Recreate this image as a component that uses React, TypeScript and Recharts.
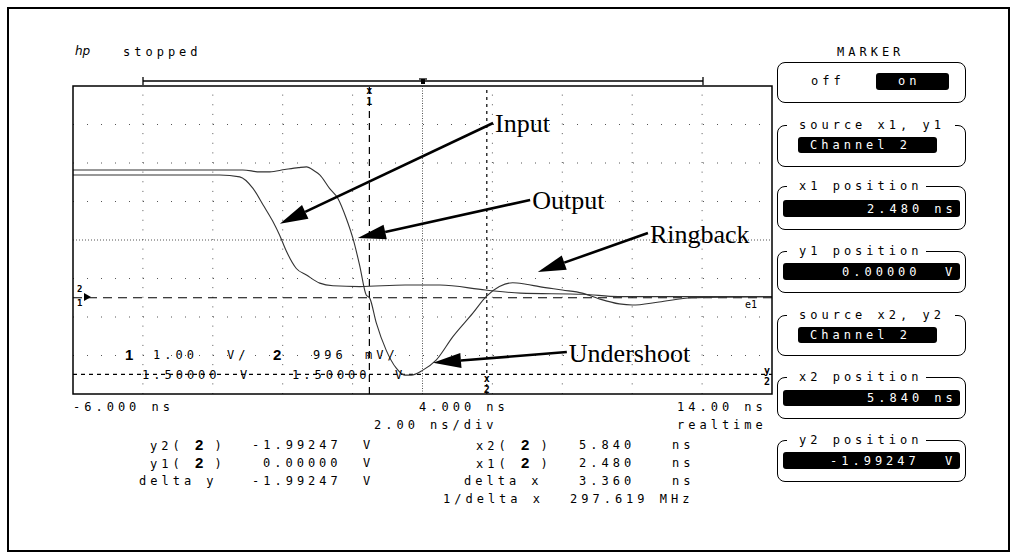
import React from 'react';
import { LineChart, Line, XAxis, YAxis, ReferenceLine } from 'recharts';

// channel traces, time in ns, level in V
const inputTime = [-6, -1.8, -1.23, -0.85, -0.56, -0.28, -0.09, 0.11, 0.39, 0.68, 1.06, 1.44, 2.2, 3.5, 4.5, 5.8, 6.8, 8.6, 9.6, 11, 14];
const inputVolts = [3.19, 3.19, 3.14, 2.84, 2.41, 1.98, 1.63, 1.2, 0.76, 0.59, 0.38, 0.31, 0.29, 0.33, 0.33, 0.2, 0.12, 0.09, 0.03, 0.03, 0.03];

const outputTime = [-6, -1.14, -0.66, -0.37, 0.06, 0.45, 0.68, 0.91, 1.06, 1.34, 1.58, 1.82, 2.01, 2.2, 2.39, 2.49, 2.68, 2.96, 3.25, 3.49, 3.68, 4.01, 4.39, 4.87, 5.44, 5.82, 6.2, 6.58, 6.96, 7.34, 8.0, 8.57, 9.06, 9.63, 10.0, 10.77, 11.71, 14];
const outputVolts = [3.32, 3.32, 3.27, 3.27, 3.33, 3.38, 3.4, 3.29, 3.19, 2.84, 2.58, 2.06, 1.54, 0.85, 0.07, -0.01, -0.66, -1.36, -1.83, -2.01, -2.01, -1.88, -1.62, -1.01, -0.4, 0.03, 0.29, 0.39, 0.35, 0.29, 0.2, 0.12, -0.03, -0.16, -0.19, -0.11, 0.0, 0.03];

const gridTimes = [-4, -2, 0, 2, 6, 8, 10, 12];
const gridVolts = [-1.5, -0.5, 0.5, 2.5, 3.5, 4.5];
const centerTime = 4;
const centerVolts = 1.5;

const x1Marker = 2.48;
const x2Marker = 5.84;
const y1Marker = 0;
const y2Marker = -1.99247;

const noteLabels = ['Input', 'Output', 'Ringback', 'Undershoot'];
const noteFromTime = [6.02, 7.08, 10.45, 8.13];
const noteFromVolts = [4.54, 2.54, 1.68, -1.41];
const noteToTime = [-0.08, 2.15, 7.3, 4.3];
const noteToVolts = [1.92, 1.55, 0.67, -1.69];

const inputData = inputTime.map((t, i) => ({ t, v: inputVolts[i] }));
const outputData = outputTime.map((t, i) => ({ t, v: outputVolts[i] }));

const MONO = '"DejaVu Sans Mono", monospace';

const Txt = ({ x, y, children, color = '#000', size = 12 }: any) => (
  <div
    style={{
      position: 'absolute', left: x, top: y - 8, height: 16, lineHeight: '16px',
      fontFamily: MONO, fontSize: size, letterSpacing: 4, whiteSpace: 'pre', color,
    }}
  >
    {children}
  </div>
);

const Big = ({ children }: any) => (
  <b style={{ fontFamily: '"Liberation Sans", sans-serif', fontSize: 15, letterSpacing: 0 }}>{children}</b>
);

const Panel = ({ top, bottom, title, gapEnd }: any) => (
  <>
    <div
      style={{
        position: 'absolute', left: 777, top, width: 189, height: bottom - top,
        border: '1.5px solid #000', borderRadius: 8, boxSizing: 'border-box',
      }}
    />
    {title && (
      <div style={{ position: 'absolute', left: 787, top: top - 8, width: gapEnd - 787, height: 16, background: '#fff' }} />
    )}
    {title && <Txt x={799} y={top}>{title}</Txt>}
  </>
);

const Field = ({ left, right, top, bottom }: any) => (
  <div style={{ position: 'absolute', left, top, width: right - left, height: bottom - top, background: '#000', borderRadius: 3 }} />
);

const arrowShape = (text: string) => (p: any) => {
  const { x1, y1, x2, y2 } = p;
  const dx = x2 - x1;
  const dy = y2 - y1;
  const len = Math.sqrt(dx * dx + dy * dy);
  const ux = dx / len;
  const uy = dy / len;
  const bx = x2 - ux * 28;
  const by = y2 - uy * 28;
  const hw = 7.5;
  return (
    <g>
      <line x1={x1} y1={y1} x2={bx} y2={by} stroke="#000" strokeWidth={2.6} />
      <polygon points={`${x2},${y2} ${bx - uy * hw},${by + ux * hw} ${bx + uy * hw},${by - ux * hw}`} fill="#000" />
      <text x={x1 + 2} y={y1 + 1} dominantBaseline="central" fontFamily='"Liberation Serif", serif' fontSize={26} fill="#000">
        {text}
      </text>
    </g>
  );
};

const markLabel = (a: string, b: string, where: string) => (props: any) => {
  const vb = props.viewBox || {};
  let x = vb.x;
  let y = vb.y + 4;
  if (where === 'bottom') y = vb.y + vb.height - 16;
  if (where === 'right') {
    x = vb.x + vb.width - 5;
    y = vb.y - 4;
  }
  return (
    <g fontFamily={MONO} fontSize={10} fontWeight="bold" textAnchor="middle" fill="#000">
      <text x={x} y={y} dominantBaseline="central">{a}</text>
      <text x={x} y={y + 11} dominantBaseline="central">{b}</text>
    </g>
  );
};

export default function App() {
  return (
    <div style={{ position: 'absolute', left: 0, top: 0, width: 1017, height: 559, background: '#fff', overflow: 'hidden' }}>
      <div style={{ position: 'absolute', left: 7, top: 7, width: 1003, height: 545, border: '2px solid #000', boxSizing: 'border-box' }} />

      <div style={{ position: 'absolute', left: 0, top: 0 }}>
        <LineChart width={1017} height={559} margin={{ top: 86, left: 73, right: 245, bottom: 165 }}>
          <XAxis type="number" dataKey="t" domain={[-6, 14]} hide allowDataOverflow />
          <YAxis type="number" dataKey="v" domain={[-2.5, 5.5]} hide allowDataOverflow />
          {gridTimes.map((t) => (
            <ReferenceLine key={'gx' + t} x={t} stroke="#555" strokeDasharray="1 8.625" />
          ))}
          {gridVolts.map((v) => (
            <ReferenceLine key={'gy' + v} y={v} stroke="#555" strokeDasharray="1 13" />
          ))}
          <ReferenceLine x={centerTime} stroke="#555" strokeDasharray="1 1.5" />
          <ReferenceLine y={centerVolts} stroke="#555" strokeDasharray="1 2" />
          <ReferenceLine x={x1Marker} stroke="#000" strokeWidth={1.2} strokeDasharray="7 5" label={markLabel('x', '1', 'top')} />
          <ReferenceLine x={x2Marker} stroke="#000" strokeWidth={1.2} strokeDasharray="3 4" label={markLabel('x', '2', 'bottom')} />
          <ReferenceLine y={y1Marker} stroke="#000" strokeWidth={1.2} strokeDasharray="9 6" />
          <ReferenceLine y={y2Marker} stroke="#000" strokeWidth={1.2} strokeDasharray="4 4" label={markLabel('y', '2', 'right')} />
          <Line data={inputData} dataKey="v" type="monotone" stroke="#333" strokeWidth={1.1} dot={false} isAnimationActive={false} />
          <Line data={outputData} dataKey="v" type="monotone" stroke="#333" strokeWidth={1.1} dot={false} isAnimationActive={false} />
          {noteLabels.map((n, i) => (
            <ReferenceLine
              key={n}
              segment={[
                { x: noteFromTime[i], y: noteFromVolts[i] },
                { x: noteToTime[i], y: noteToVolts[i] },
              ]}
              shape={arrowShape(n)}
            />
          ))}
        </LineChart>
      </div>

      <svg width={1017} height={559} style={{ position: 'absolute', left: 0, top: 0, pointerEvents: 'none' }}>
        <rect x={73} y={86} width={699} height={308} fill="none" stroke="#000" strokeWidth={1.5} />
        <line x1={143} y1={81} x2={703} y2={81} stroke="#000" strokeWidth={1.3} />
        <line x1={143} y1={77} x2={143} y2={85} stroke="#000" strokeWidth={1.3} />
        <line x1={703} y1={77} x2={703} y2={85} stroke="#000" strokeWidth={1.3} />
        <line x1={419} y1={79} x2={427} y2={79} stroke="#000" strokeWidth={1.3} />
        <rect x={421} y={79} width={4} height={5} fill="#000" />
        <g fontFamily={MONO} fontSize={9} fontWeight="bold" fill="#000">
          <text x={77} y={292}>2</text>
          <text x={77} y={306}>1</text>
          <text x={745} y={308} fontWeight="normal" fontSize={10}>e1</text>
        </g>
        <polygon points="84,293 91,297 84,301" fill="#000" />
      </svg>

      <div style={{ position: 'absolute', left: 75, top: 44, fontFamily: '"DejaVu Sans", sans-serif', fontStyle: 'italic', fontSize: 12 }}>hp</div>
      <Txt x={123} y={52}>stopped</Txt>
      <Txt x={837} y={52}>MARKER</Txt>

      <Txt x={125} y={355}><Big>1</Big></Txt>
      <Txt x={153} y={355}>1.00</Txt>
      <Txt x={227} y={355}>V/</Txt>
      <Txt x={273} y={355}><Big>2</Big></Txt>
      <Txt x={313} y={355}>996</Txt>
      <Txt x={365} y={355}>mV/</Txt>
      <Txt x={142} y={375}>1.50000</Txt>
      <Txt x={240} y={375}>V</Txt>
      <Txt x={292} y={375}>1.50000</Txt>
      <Txt x={395} y={375}>V</Txt>

      <Txt x={73} y={407}>-6.000 ns</Txt>
      <Txt x={419} y={407}>4.000 ns</Txt>
      <Txt x={677} y={407}>14.00 ns</Txt>
      <Txt x={374} y={425}>2.00 ns/div</Txt>
      <Txt x={677} y={425}>realtime</Txt>

      <Txt x={150} y={445}>y2( <Big>2</Big> )</Txt>
      <Txt x={150} y={463}>y1( <Big>2</Big> )</Txt>
      <Txt x={139} y={481}>delta y</Txt>
      <Txt x={252} y={445}>-1.99247</Txt>
      <Txt x={263} y={463}>0.00000</Txt>
      <Txt x={252} y={481}>-1.99247</Txt>
      <Txt x={363} y={445}>V</Txt>
      <Txt x={363} y={463}>V</Txt>
      <Txt x={363} y={481}>V</Txt>

      <Txt x={476} y={445}>x2( <Big>2</Big> )</Txt>
      <Txt x={476} y={463}>x1( <Big>2</Big> )</Txt>
      <Txt x={464} y={481}>delta x</Txt>
      <Txt x={443} y={499}>1/delta x</Txt>
      <Txt x={579} y={445}>5.840</Txt>
      <Txt x={579} y={463}>2.480</Txt>
      <Txt x={579} y={481}>3.360</Txt>
      <Txt x={570} y={499}>297.619 MHz</Txt>
      <Txt x={672} y={445}>ns</Txt>
      <Txt x={672} y={463}>ns</Txt>
      <Txt x={672} y={481}>ns</Txt>

      <Panel top={62} bottom={103} />
      <Txt x={811} y={81}>off</Txt>
      <Field left={876} right={949} top={73} bottom={90} />
      <Txt x={898} y={81} color="#fff">on</Txt>

      <Panel top={125} bottom={167} title="source x1, y1" gapEnd={955} />
      <Field left={798} right={937} top={137} bottom={153} />
      <Txt x={810} y={145} color="#fff">Channel 2</Txt>

      <Panel top={186} bottom={230} title="x1 position" gapEnd={926} />
      <Field left={783} right={960} top={200} bottom={217} />
      <Txt x={867} y={208.5} color="#fff">2.480 ns</Txt>

      <Panel top={251} bottom={293} title="y1 position" gapEnd={926} />
      <Field left={783} right={960} top={263} bottom={280} />
      <Txt x={842} y={271.5} color="#fff">0.00000</Txt>
      <Txt x={945} y={271.5} color="#fff">V</Txt>

      <Panel top={315} bottom={356} title="source x2, y2" gapEnd={955} />
      <Field left={798} right={937} top={327} bottom={343} />
      <Txt x={810} y={335} color="#fff">Channel 2</Txt>

      <Panel top={377} bottom={419} title="x2 position" gapEnd={926} />
      <Field left={783} right={960} top={390} bottom={406} />
      <Txt x={867} y={398} color="#fff">5.840 ns</Txt>

      <Panel top={440} bottom={482} title="y2 position" gapEnd={926} />
      <Field left={783} right={960} top={452} bottom={469} />
      <Txt x={830} y={460.5} color="#fff">-1.99247</Txt>
      <Txt x={945} y={460.5} color="#fff">V</Txt>
    </div>
  );
}
